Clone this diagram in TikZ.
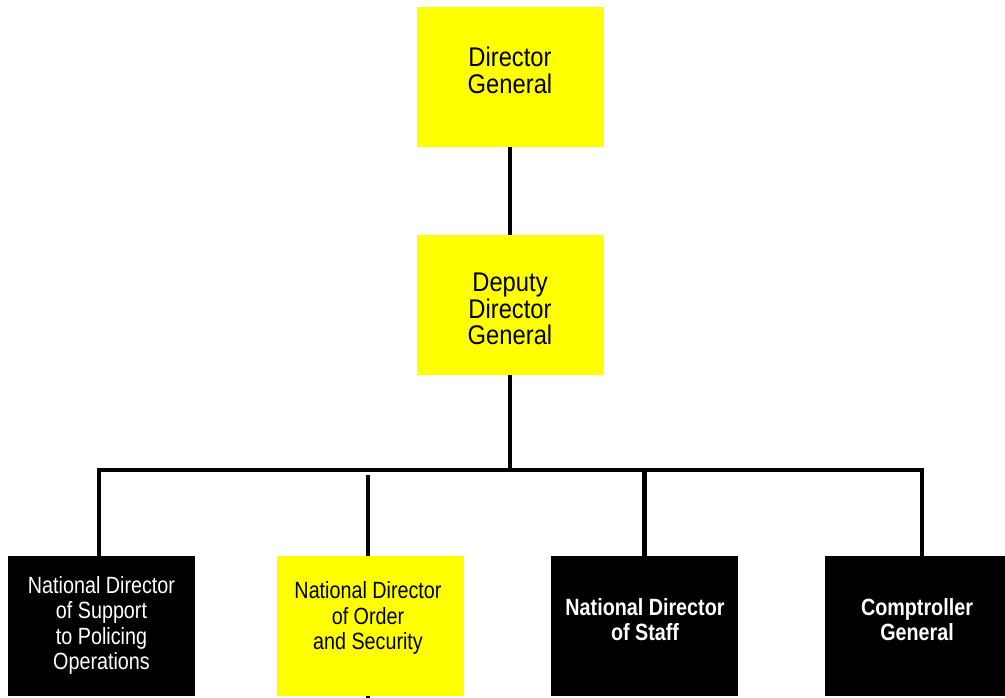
\documentclass[tikz,border=0pt]{standalone}
\usepackage{fontspec}
\setmainfont[FakeStretch=0.84]{Liberation Sans}
\newfontfamily\topfont[FakeStretch=0.88]{Liberation Sans}
\definecolor{boxyellow}{HTML}{FFFF00}
\begin{document}
\begin{tikzpicture}[x=1pt,y=-1pt,
  ybox/.style={draw=none,fill=boxyellow,minimum width=187pt,minimum height=140pt,inner sep=0pt},
  kbox/.style={draw=none,fill=black,minimum width=187pt,minimum height=140pt,inner sep=0pt},
  toptext/.style={align=center,text=black,inner sep=0pt,font=\topfont\fontsize{27}{26.5}\selectfont},
  ytext/.style={align=center,text=black,inner sep=0pt,font=\fontsize{23.5}{25.6}\selectfont},
  ktext/.style={align=center,text=white,inner sep=0pt,font=\fontsize{23.5}{25.6}\selectfont},
  btext/.style={align=center,text=white,inner sep=0pt,font=\bfseries\fontsize{23.5}{24.5}\selectfont},
  conn/.style={line width=4.8pt,line join=miter,black}]
\useasboundingbox (0,0) rectangle (1005,698);
% boxes
\node[ybox] (dg) at (510.5,77) {};
\node[ybox] (dd) at (510.5,305) {};
\node[kbox] (b1) at (101.5,626) {};
\node[ybox] (b2) at (370.5,626) {};
\node[kbox] (b3) at (644.5,626) {};
\node[kbox,minimum width=180pt] (b4) at (915,626) {};
% texts
\node[toptext] (dgt) at (510,70.5) {Director\\General};
\node[toptext] (ddt) at (510,309) {Deputy\\Director\\General};
\node[ktext] (b1t) at (101.5,625.5) {National Director\\of Support\\to Policing\\Operations};
\node[ytext] (b2t) at (368,618) {National Director\\of Order\\and Security};
\node[btext] (b3t) at (645,619.5) {National Director\\of Staff};
\node[btext] (b4t) at (917,619.5) {Comptroller\\General};
% junctions
\coordinate (jl) at (99,470);
\coordinate (jm) at (510,470);
\coordinate (jr) at (922,470);
\coordinate (c2) at (368,475);
\coordinate (c2b) at (368,698);
% connectors
\draw[conn] (dg.south -| jm) -- (dd.north -| jm);
\draw[conn] (dd.south -| jm) -- (jm);
\draw[conn] (b1.north -| jl) -- (jl) -- (jr) -- (b4.north -| jr);
\draw[conn] (b3.north) -- (b3.north |- jm);
\draw[conn] (c2) -- (b2.north -| c2);
\draw[conn] (b2.south -| c2) -- (c2b);
\end{tikzpicture}
\end{document}
